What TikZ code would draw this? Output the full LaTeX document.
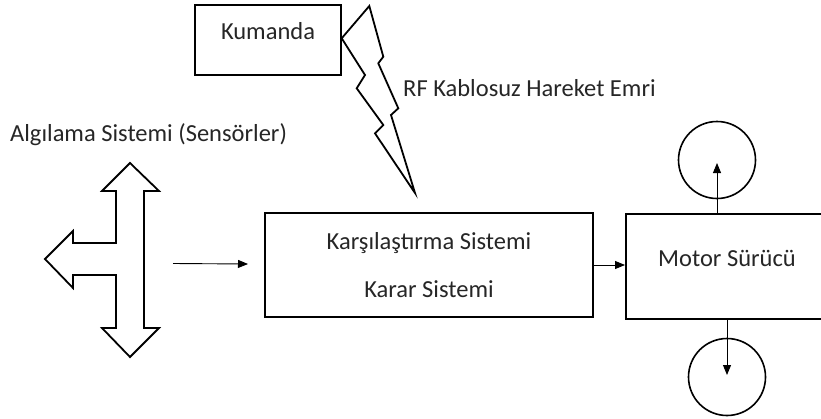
\documentclass[tikz,border=0pt]{standalone}
\usepackage{fontspec}
\setmainfont{Carlito}
\usetikzlibrary{arrows.meta}
\begin{document}
\begin{tikzpicture}[x=1pt,y=-1pt,
  box/.style={draw=black, line width=1.8pt, inner sep=0pt},
  txt/.style={font=\fontsize{24.5}{28}\selectfont, text=black!85, inner sep=0pt},
  outl/.style={draw=black, line width=1.8pt, line join=miter, fill=white},
  conn/.style={draw=black, line width=0.9pt, -{Triangle[length=10pt,width=8pt]}}]
\clip (0,0) rectangle (821,418);
\fill[white] (0,0) rectangle (821,418);
% Kumanda
\node[box, minimum width=146pt, minimum height=70pt] (kum) at (268,40) {};
\node[txt] (kumt) at (268,31) {Kumanda};
% lightning
\draw[outl] (341.7,38.3) -- (369.3,6) -- (383.3,56.7) -- (378.3,63.3) -- (398.3,108.3) -- (391,115) -- (415,193) -- (375,133.3) -- (383.3,125) -- (356.7,88.3) -- (365,75) -- cycle;
\node[txt, anchor=west] (rf) at (403,88) {RF Kablosuz Hareket Emri};
% sensors
\node[txt, anchor=west] (alg) at (10,135) {Algılama Sistemi (Sensörler)};
\draw[outl] (130,163) -- (159,191) -- (144,191) -- (144,328) -- (159,328) -- (130,357) -- (102,328) -- (116,328) -- (116,275) -- (73,275) -- (73,288) -- (45,259) -- (73,231) -- (73,243) -- (116,243) -- (116,191) -- (102,191) -- cycle;
\coordinate (s1) at (173,263.5);
\coordinate (s2) at (248,264);
\draw[conn] (s1) -- (s2);
% main box
\node[box, minimum width=328pt, minimum height=104pt, align=center, font=\fontsize{24.5}{48}\selectfont, text=black!85] (main) at (429,265) {Karşılaştırma Sistemi\\Karar Sistemi};
% motor box
\node[box, minimum width=220pt, minimum height=105pt, anchor=north west] (mot) at (625,213) {};
\node[txt] (mott) at (727,258) {Motor Sürücü};
\draw[conn] (main.east) -- (mot.west |- main.east);
% wheels
\node[draw=black, line width=1.6pt, circle, minimum size=77pt, inner sep=0pt] (w1) at (717,160) {};
\node[draw=black, line width=1.6pt, circle, minimum size=77pt, inner sep=0pt] (w2) at (727,377) {};
\draw[conn] (mot.north -| w1) -- ([yshift=-3pt]w1.center);
\draw[conn] (mot.south -| w2) -- ([yshift=2pt]w2.center);
\end{tikzpicture}
\end{document}
